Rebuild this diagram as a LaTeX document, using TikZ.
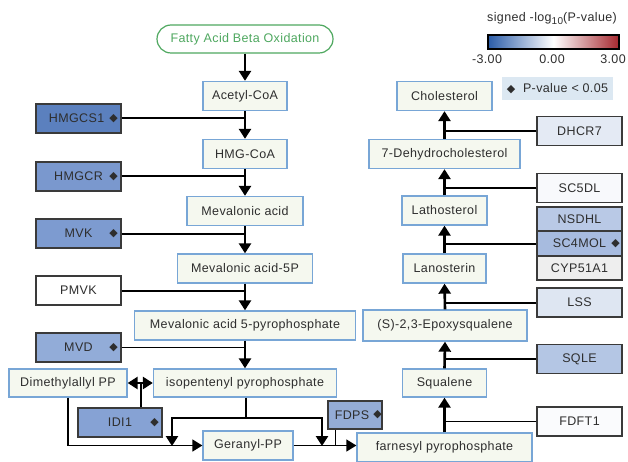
\documentclass[tikz,border=0pt]{standalone}
\usepackage{fontspec}
\setmainfont[LetterSpace=3]{Liberation Sans}
\newfontfamily\symfont{DejaVu Sans}
\usetikzlibrary{arrows.meta}

\definecolor{metline}{HTML}{78A6D6}
\definecolor{metfill}{HTML}{F5F8EF}
\definecolor{enzline}{HTML}{3A3A3A}
\definecolor{txt}{HTML}{2E2E2E}
\definecolor{fagreen}{HTML}{4FA860}
\definecolor{barblue}{HTML}{2A5CA8}
\definecolor{barred}{HTML}{A5272E}
\definecolor{legfill}{HTML}{DCE8F2}

\begin{document}
\begin{tikzpicture}[x=1pt, y=-1pt, font=\fontsize{12.5}{14}\selectfont, text=txt]
  \tikzset{
    metab/.style={draw=metline, fill=metfill, line width=1.3pt, minimum height=29pt, inner sep=2pt},
    enz/.style={draw=enzline, line width=1.4pt, minimum width=85pt, minimum height=29pt, inner sep=2pt},
    sig/.style={label={[anchor=center, xshift=-#1, font=\symfont\fontsize{11}{11}\selectfont]east:◆}},
    sig/.default=8pt,
    conv/.style={line width=2.6pt, -{Triangle[width=12pt,length=10pt]}},
    link/.style={line width=2pt},
    thinlink/.style={line width=1.3pt}
  }
  \useasboundingbox (0,0) rectangle (628,462);

  % Legende
  \node (legtitle) at (552,19) {\fontsize{12.5}{14}\selectfont signed -log\raisebox{-3pt}{\fontsize{10}{10}\selectfont 10}(P-value)};
  \shade[left color=barblue, right color=barred, middle color=white] (488,35) rectangle (619,49);
  \draw[line width=1.2pt] (488,35) rectangle (619,49);
  \node (tickl) at (487,59) {-3.00};
  \node (tickm) at (552,59) {0.00};
  \node (tickr) at (613,59) {3.00};
  \node[fill=legfill, minimum width=111pt, minimum height=23pt] (pleg) at (557.5,88.5)
    {{\symfont\fontsize{11}{11}\selectfont◆}\ \ P-value < 0.05};

  % Mevalonaat-route
  \node[draw=fagreen, line width=1.2pt, fill=white, rounded corners=14pt, text=fagreen,
        minimum width=176pt, minimum height=28pt] (fabo) at (245,39) {Fatty Acid Beta Oxidation};
  \node[metab, minimum width=84pt] (acetyl) at (245,96) {Acetyl-CoA};
  \node[metab, minimum width=84pt] (hmgcoa) at (245,154) {HMG-CoA};
  \node[metab, minimum width=116pt] (meva) at (245,211) {Mevalonic acid};
  \node[metab, minimum width=135pt] (mev5p) at (245,268.5) {Mevalonic acid-5P};
  \node[metab, minimum width=221pt] (mevpp) at (245,325.5) {Mevalonic acid 5-pyrophosphate};
  \node[metab, minimum width=183pt, minimum height=28pt] (ipp) at (245,383) {isopentenyl pyrophosphate};
  \node[metab, minimum width=118pt, minimum height=28pt] (dmapp) at (68,383) {Dimethylallyl PP};
  \node[metab, minimum width=90pt] (geranyl) at (248,445.5) {Geranyl-PP};
  \node[metab, minimum width=175pt] (farnesyl) at (444.5,447.5) {farnesyl pyrophosphate};

  % Sterol-route
  \node[metab, minimum width=95pt] (chol) at (444.5,96) {Cholesterol};
  \node[metab, minimum width=151pt] (dhc) at (444.5,154) {7-Dehydrocholesterol};
  \node[metab, minimum width=85pt] (latho) at (444.5,210.5) {Lathosterol};
  \node[metab, minimum width=83pt] (lano) at (444.5,268.5) {Lanosterin};
  \node[metab, minimum width=164pt, minimum height=31pt] (epox) at (445,325.5) {(S)-2,3-Epoxysqualene};
  \node[metab, minimum width=84pt, minimum height=28pt] (squal) at (444.5,383) {Squalene};

  % Enzymen
  \node[enz, fill={rgb,255:red,91;green,128;blue,190}, sig] (hmgcs1) at (78.5,118.5) {HMGCS1\ \ };
  \node[enz, fill={rgb,255:red,122;green,152;blue,206}, sig] (hmgcr) at (78.5,176.5) {HMGCR\ };
  \node[enz, fill={rgb,255:red,125;green,155;blue,208}, sig] (mvk) at (78.5,233.5) {MVK\ };
  \node[enz, fill=white] (pmvk) at (78.5,290.5) {PMVK\ };
  \node[enz, fill={rgb,255:red,146;green,172;blue,216}, sig] (mvd) at (78.5,347.5) {MVD\ };
  \node[enz, fill={rgb,255:red,134;green,162;blue,212}, minimum width=84pt, sig] (idi1) at (120,422.5) {IDI1};
  \node[enz, fill={rgb,255:red,148;green,172;blue,214}, minimum width=54pt, minimum height=28pt, sig=5pt] (fdps) at (355,415) {FDPS\ \,};
  \node[enz, fill={rgb,255:red,228;green,234;blue,244}] (dhcr7) at (579.5,131) {DHCR7};
  \node[enz, fill={rgb,255:red,248;green,249;blue,252}] (sc5dl) at (579.5,188) {SC5DL};
  \node[enz, fill={rgb,255:red,185;green,201;blue,230}, minimum height=24pt] (nsdhl) at (579.5,219) {NSDHL};
  \node[enz, fill={rgb,255:red,167;green,187;blue,223}, minimum height=25pt, sig=7pt] (sc4mol) at (579.5,243.5) {SC4MOL\ };
  \node[enz, fill={rgb,255:red,238;green,238;blue,238}, minimum height=24pt] (cyp51a1) at (579.5,268) {CYP51A1};
  \node[enz, fill={rgb,255:red,222;green,230;blue,242}] (lss) at (579.5,302.5) {LSS};
  \node[enz, fill={rgb,255:red,180;green,198;blue,228}] (sqle) at (579.5,359) {SQLE};
  \node[enz, fill={rgb,255:red,250;green,251;blue,253}] (fdft1) at (579.5,421.5) {FDFT1};

  % Pijlen links
  \draw[conv] (fabo.south) -- (acetyl.north);
  \draw[conv] (acetyl.south) -- (hmgcoa.north);
  \draw[conv] (hmgcoa.south) -- (meva.north);
  \draw[conv] (meva.south) -- (mev5p.north);
  \draw[conv] (mev5p.south) -- (mevpp.north);
  \draw[conv] (mevpp.south) -- (ipp.north);
  \draw[link] (hmgcs1.east) -- (hmgcs1.east -| acetyl.south);
  \draw[link] (hmgcr.east) -- (hmgcr.east -| hmgcoa.south);
  \draw[link] (mvk.east) -- (mvk.east -| meva.south);
  \draw[link] (pmvk.east) -- (pmvk.east -| mev5p.south);
  \draw[thinlink] (mvd.east) -- (mvd.east -| mevpp.south);

  % Isomerase en prenylketen
  \draw[conv, {Triangle[width=12pt,length=10pt]}-{Triangle[width=12pt,length=10pt]}] (dmapp.east) -- (ipp.west);
  \draw[link] ([xshift=21pt]idi1.north) -- ([xshift=21pt]idi1.north |- ipp.west);
  \coordinate (ippfork) at (246,418);
  \coordinate (gerin) at (172,446);
  \coordinate (farin) at (322,446);
  \draw[thinlink] (ipp.south -| ippfork) -- (ippfork);
  \draw[conv] (ippfork) -| (gerin);
  \draw[conv] (ippfork) -| (farin);
  \draw[line width=1.6pt, -{Triangle[width=12pt,length=10pt]}] (dmapp.south) |- (geranyl.west);
  \draw[thinlink, -{Triangle[width=12pt,length=10pt]}] (geranyl.east) -- (geranyl.east -| farnesyl.west);
  \draw[line width=1.6pt] ([xshift=8pt]fdps.south west) -- ([xshift=8pt]fdps.south west |- geranyl.east);

  % Pijlen rechts
  \draw[conv] (farnesyl.north) -- (squal.south);
  \draw[conv] (squal.north) -- (epox.south);
  \draw[conv] (epox.north) -- (lano.south);
  \draw[conv] (lano.north) -- (latho.south);
  \draw[conv] (latho.north) -- (dhc.south);
  \draw[conv] (dhc.north) -- (chol.south);
  \draw[thinlink] (fdft1.west) -- (fdft1.west -| farnesyl.north);
  \draw[link] (sqle.west) -- (sqle.west -| squal.north);
  \draw[link] (lss.west) -- (lss.west -| epox.north);
  \draw[link] (sc4mol.west) -- (sc4mol.west -| lano.north);
  \draw[link] (sc5dl.west) -- (sc5dl.west -| latho.north);
  \draw[link] (dhcr7.west) -- (dhcr7.west -| dhc.north);
\end{tikzpicture}
\end{document}
